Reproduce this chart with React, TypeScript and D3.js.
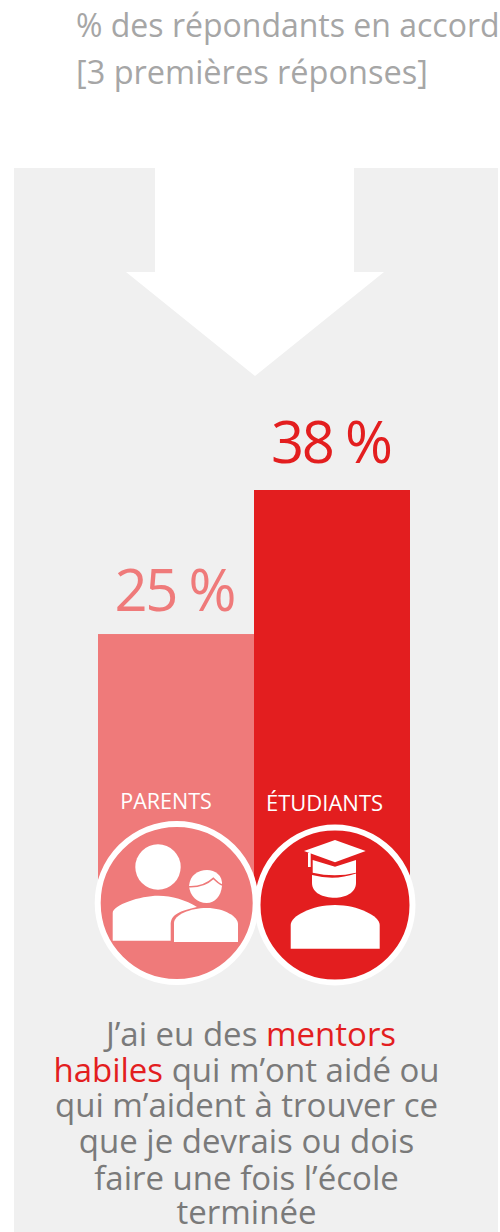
import * as d3 from 'd3';

const categories = ['PARENTS', 'ÉTUDIANTS'];
const values = [25, 38];
const valueLabels = ['25 %', '38 %'];
const titleLines = ['% des répondants en accord', '[3 premières réponses]'];
const captionLines = [
  [{ t: 'J’ai eu des ', red: false }, { t: 'mentors', red: true }],
  [{ t: 'habiles', red: true }, { t: ' qui m’ont aidé ou', red: false }],
  [{ t: 'qui m’aident à trouver ce', red: false }],
  [{ t: 'que je devrais ou dois', red: false }],
  [{ t: 'faire une fois l’école', red: false }],
  [{ t: 'terminée', red: false }],
];

const RED = '#e31e1f';
const PINK = '#ef7a7a';
const PANEL = '#f0f0f0';
const FONT = '"Open Sans", sans-serif';
const captionBaselines = [1046, 1082, 1117, 1153, 1190, 1224];
const colors = d3.scaleOrdinal<string, string>().domain(categories).range([PINK, RED]);

const xScale = d3.scaleBand().domain(categories).range([98, 410]).padding(0);
const yScale = d3.scaleLinear().domain([0, 38]).range([911, 490]);

function ParentsIcon() {
  return (
    <g fill="#fff">
      <circle cx={158} cy={867} r={22.7} />
      <path d="M112.7,940.7 V913 C112.7,905 140,895.7 158.3,895.7 C172,895.7 186,900 197,907 C180,911 170.7,914 170.7,925 V940.7 Z" />
      <path d="M174,942 V923 C174,915 190,908 206.7,908 C225,908 238,917 238,924 V942 Z" />
      <path d="M189,886 C190,875 198,870 207,870 C215,870 223,875 222,886 C221,896 215,903 206.7,903 C197,903 190,896 189,886 Z" />
      <path d="M189,886.7 C196,887 206,885 213.3,878.3 C216,881 219,884 222,885" fill="none" stroke={PINK} strokeWidth={1.6} />
    </g>
  );
}

function StudentIcon() {
  return (
    <g fill="#fff">
      <path d="M304,851 L335,840 L365.7,851 L335,862.3 Z" />
      <rect x={308} y={853} width={2.7} height={14} />
      <path d="M312.7,860 L335,866.7 L356,860 V872.7 Q335,878 312.7,872.7 Z" />
      <path d="M312,875 Q335,881 356,873.5 V883 C356,893 345,897.7 335,897.7 C323,897.7 312,893 312,883 Z" />
      <path d="M290.7,948.7 V925 C290.7,916 312,905 335,905 C358,905 379.7,916 379.7,925 V948.7 Z" />
    </g>
  );
}

export default function App() {
  return (
    <svg
      width={500}
      height={1232}
      style={{ position: 'absolute', left: 0, top: 0, fontFamily: FONT }}
    >
      <rect width={500} height={1232} fill="#fff" />
      <rect x={14} y={168} width={484} height={1064} fill={PANEL} />
      <path d="M155,168 H354 V272 H384 L255,376 L126,272 H155 Z" fill="#fff" />

      <text x={76} y={37} fontSize={32} fill="#a6a6a6">{titleLines[0]}</text>
      <text x={76} y={84} fontSize={32.5} fill="#a6a6a6">{titleLines[1]}</text>

      {categories.map((c, i) => (
        <g key={c}>
          <rect
            x={xScale(c)}
            y={yScale(values[i])}
            width={xScale.bandwidth()}
            height={yScale(0) - yScale(values[i])}
            fill={colors(c)}
          />
          <text
            x={xScale(c)! + xScale.bandwidth() / 2 + (i === 0 ? -0.5 : 0)}
            y={yScale(values[i]) - (i === 0 ? 23 : 27)}
            textAnchor="middle"
            fontSize={58}
            textLength={122}
            fill={colors(c)}
          >
            {valueLabels[i]}
          </text>
        </g>
      ))}

      <circle cx={176.7} cy={903} r={79} fill={PINK} stroke="#fff" strokeWidth={6} />
      <circle cx={335} cy={905} r={77.5} fill={RED} stroke="#fff" strokeWidth={6} />
      <ParentsIcon />
      <StudentIcon />

      <text x={166} y={809} textAnchor="middle" fontSize={21.5} fill="#fff">{categories[0]}</text>
      <text x={324.5} y={811} textAnchor="middle" fontSize={22} fill="#fff">{categories[1]}</text>

      {captionLines.map((line, i) => (
        <text
          key={i}
          x={i === 0 ? 251 : 246.5}
          y={captionBaselines[i]}
          fontSize={33}
          textAnchor="middle"
          fill="#7a7a7a"
        >
          {line.map((seg, j) => (
            <tspan key={j} fill={seg.red ? RED : '#7a7a7a'}>{seg.t}</tspan>
          ))}
        </text>
      ))}
    </svg>
  );
}
